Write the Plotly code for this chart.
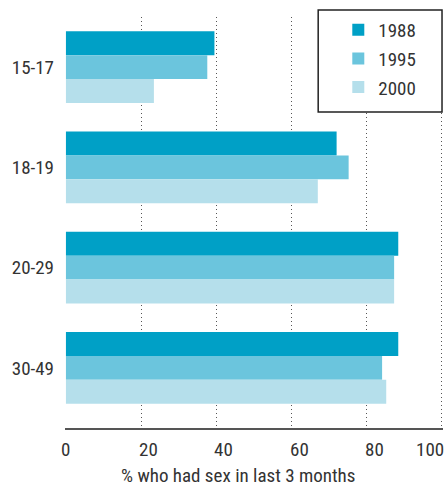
import plotly.graph_objects as go

categories = ["15-17", "18-19", "20-29", "30-49"]
years = ["1988", "1995", "2000"]
v1988 = [39.5, 72.0, 88.4, 88.4]
v1995 = [37.6, 75.2, 87.3, 84.1]
v2000 = [23.4, 67.0, 87.3, 85.2]
colors = ["#00A0C6", "#6BC5DD", "#B5DFEB"]
x_ticks = [0, 20, 40, 60, 80, 100]
x_tick_labels = ["0", "20", "40", "60", "80", "100"]
x_title = "% who had sex in last 3 months"

FONT = "Liberation Sans Narrow, Roboto Condensed, Arial Narrow, Liberation Sans, sans-serif"
TXT = "#333333"

fig = go.Figure()
for yr, vals, c in zip(years, [v1988, v1995, v2000], colors):
    fig.add_trace(go.Bar(
        y=categories, x=vals, name=yr, orientation="h",
        marker=dict(color=c, line=dict(width=0)),
        legendgroup=yr,
    ))

# legend frame
fig.add_shape(type="rect", xref="paper", yref="paper",
              x0=0.6698, x1=0.9974, y0=0.769, y1=1.017,
              line=dict(color="#222222", width=1.5), fillcolor="white", layer="above")

# x tick labels (placed like the original: nudged right, last one kept inside)
for v, t in zip(x_ticks, x_tick_labels):
    if v == x_ticks[0]:
        anchor, shift = "center", 0
    elif v == x_ticks[-1]:
        anchor, shift = "right", 4
    else:
        anchor, shift = "left", -4
    fig.add_annotation(x=v, xref="x", y=0, yref="paper", yanchor="top",
                       xanchor=anchor, xshift=shift, yshift=-8, showarrow=False,
                       text=t, font=dict(family=FONT, size=19, color=TXT))

# axis title
fig.add_annotation(x=0.457, xref="paper", y=0, yref="paper", yanchor="top",
                   xanchor="center", yshift=-35, height=20, valign="middle",
                   showarrow=False,
                   text=x_title, font=dict(family=FONT, size=19, color=TXT))

fig.update_layout(
    width=447, height=486,
    margin=dict(l=64.5, r=4, t=17, b=58, autoexpand=False),
    plot_bgcolor="white", paper_bgcolor="white",
    barmode="group", bargap=0.284, bargroupgap=0,
    font=dict(family=FONT, size=19, color=TXT),
    showlegend=True,
    legend=dict(
        x=0.723, y=1.015, xanchor="left", yanchor="top",
        bgcolor="rgba(0,0,0,0)", borderwidth=0,
        font=dict(family=FONT, size=19, color=TXT),
        traceorder="grouped", tracegroupgap=1,
        itemwidth=30,
    ),
    xaxis=dict(
        range=[-0.25, 100.3], tickvals=x_ticks, showticklabels=False,
        showgrid=True, gridcolor="#555555", griddash="1px,3px", gridwidth=1,
        zeroline=False, showline=True, linecolor="#555555", linewidth=2,
        ticks="", automargin=False,
    ),
    yaxis=dict(
        range=[3.6, -0.5], showgrid=False, zeroline=False, showline=False,
        ticks="", ticklabelstandoff=10, automargin=False,
    ),
)

fig.write_html("out.html", config={"displayModeBar": False},
               post_script="document.body.style.margin='0';document.body.style.overflow='hidden';")
